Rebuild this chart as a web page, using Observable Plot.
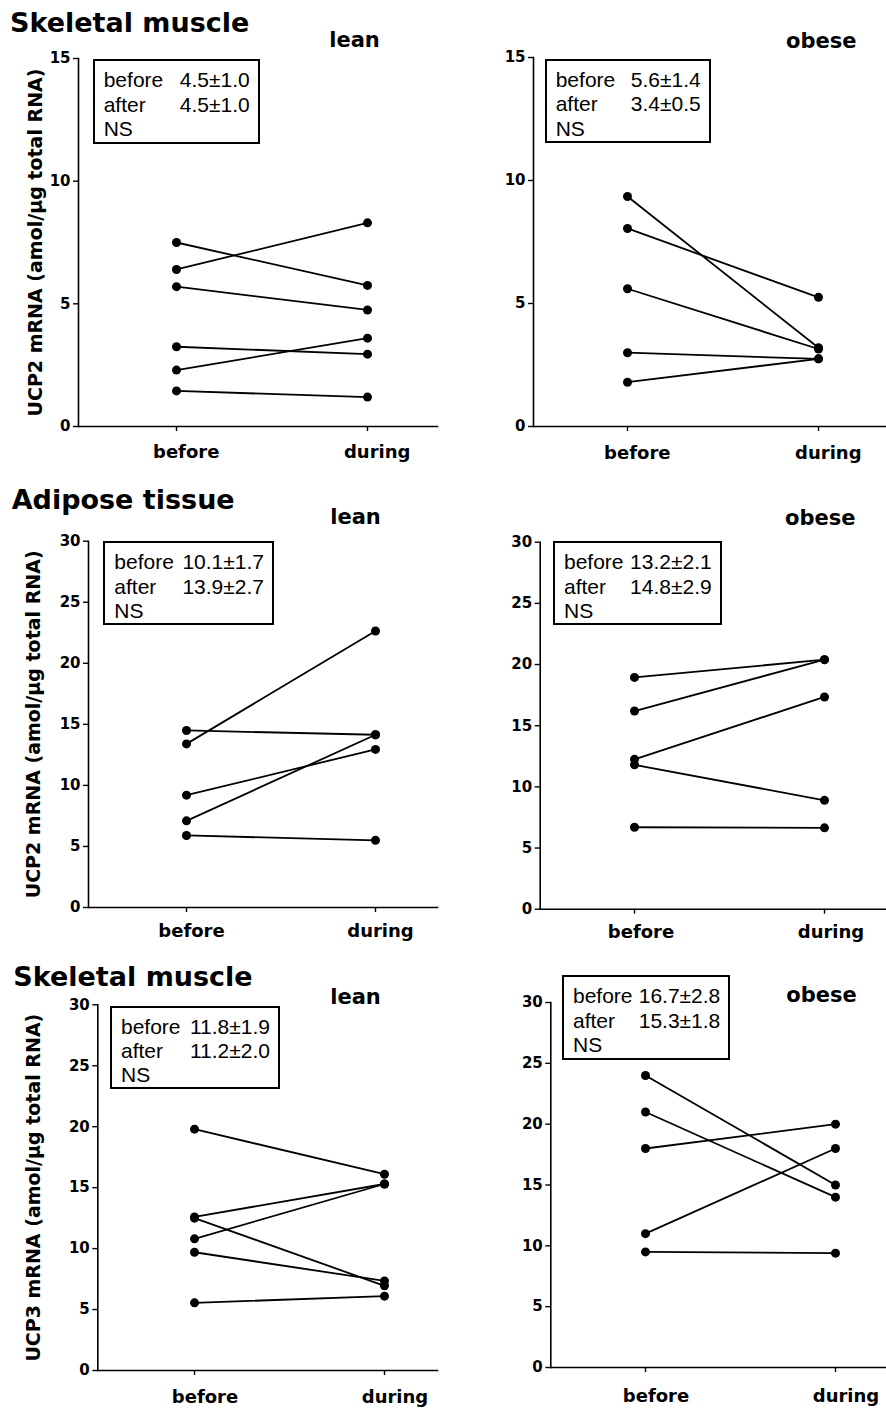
<!DOCTYPE html>
<html><head><meta charset="utf-8">
<script src="https://cdn.jsdelivr.net/npm/d3@7"></script>
<script src="https://cdn.jsdelivr.net/npm/@observablehq/plot@0.6"></script>
<style>
body{margin:0;background:#fff;}
#root{position:relative;width:886px;height:1408px;overflow:hidden;background:#fff;}
.panel{position:absolute;}
.title{position:absolute;font-family:"DejaVu Sans",sans-serif;font-weight:bold;font-size:27px;line-height:1;white-space:nowrap;color:#000;}
.box{position:absolute;box-sizing:border-box;border:2px solid #000;font-family:"Liberation Sans",Arial,sans-serif;font-size:21px;line-height:24px;padding:7px 8px 0 9px;display:grid;grid-template-columns:auto 1fr;column-gap:6px;color:#000;background:#fff;white-space:nowrap;}
.box .v{text-align:right;}
</style></head><body><div id="root"></div><script>
// ---- data ----
const conditions = ["before", "during"];
const statLabels = ["before", "after"];
const yTicks15 = [0, 5, 10, 15];
const yTicks30 = [0, 5, 10, 15, 20, 25, 30];
const ucp2Label = "UCP2 mRNA (amol/µg total RNA)";
const ucp3Label = "UCP3 mRNA (amol/µg total RNA)";
const sectionTitles = ["Skeletal muscle", "Adipose tissue", "Skeletal muscle"];
const groups = ["lean", "obese"];

const ucp2MuscleLeanBefore = [7.5, 6.4, 5.7, 3.25, 2.3, 1.45];
const ucp2MuscleLeanDuring = [5.75, 8.3, 4.75, 2.95, 3.6, 1.2];
const ucp2MuscleObeseBefore = [9.35, 8.05, 5.6, 3.0, 1.8];
const ucp2MuscleObeseDuring = [3.2, 5.25, 3.15, 2.75, 2.75];
const ucp2AdiposeLeanBefore = [14.5, 13.4, 9.2, 7.1, 5.9];
const ucp2AdiposeLeanDuring = [14.15, 22.65, 12.95, 14.15, 5.5];
const ucp2AdiposeObeseBefore = [18.95, 16.2, 12.25, 11.8, 6.7];
const ucp2AdiposeObeseDuring = [20.4, 20.4, 17.35, 8.9, 6.65];
const ucp3MuscleLeanBefore = [19.8, 12.6, 12.5, 10.8, 9.7, 5.55];
const ucp3MuscleLeanDuring = [16.1, 15.3, 6.95, 15.3, 7.35, 6.1];
const ucp3MuscleObeseBefore = [24, 21, 18, 11, 9.5];
const ucp3MuscleObeseDuring = [15, 14, 20, 18, 9.4];

const statsUcp2MuscleLean = ["4.5±1.0", "4.5±1.0", "NS"];
const statsUcp2MuscleObese = ["5.6±1.4", "3.4±0.5", "NS"];
const statsUcp2AdiposeLean = ["10.1±1.7", "13.9±2.7", "NS"];
const statsUcp2AdiposeObese = ["13.2±2.1", "14.8±2.9", "NS"];
const statsUcp3MuscleLean = ["11.8±1.9", "11.2±2.0", "NS"];
const statsUcp3MuscleObese = ["16.7±2.8", "15.3±1.8", "NS"];

// ---- layout ----
const panels = [
  {left:0, top:0, height:470, mL:78, mT:58, mB:44, mR:6, xr:[176,367], ticks:yTicks15, before:ucp2MuscleLeanBefore, during:ucp2MuscleLeanDuring, group:groups[0], gdx:276, gdy:-18.7, ylabel:ucp2Label, ylx:-43, xlDx:9.7, xlPad:19, box:[92.7,59.3,167,84.7], stats:statsUcp2MuscleLean},
  {left:443, top:0, height:470, mL:90, mT:57, mB:44, mR:0, xr:[183.7,375.3], ticks:yTicks15, before:ucp2MuscleObeseBefore, during:ucp2MuscleObeseDuring, group:groups[1], gdx:287.7, gdy:-16.3, ylabel:null, xlDx:9.8, xlPad:19.3, box:[544.7,58.7,166,84.6], stats:statsUcp2MuscleObese},
  {left:0, top:470, height:480, mL:88, mT:70.7, mB:43, mR:6, xr:[185.7,375.3], ticks:yTicks30, before:ucp2AdiposeLeanBefore, during:ucp2AdiposeLeanDuring, group:groups[0], gdx:267, gdy:-24, ylabel:ucp2Label, ylx:-55, xlDx:5, xlPad:16.3, box:[103.3,541.3,170.7,84], stats:statsUcp2AdiposeLean},
  {left:443, top:470, height:480, mL:96.7, mT:71.7, mB:41.3, mR:0, xr:[190.7,380.7], ticks:yTicks30, before:ucp2AdiposeObeseBefore, during:ucp2AdiposeObeseDuring, group:groups[1], gdx:280, gdy:-24, ylabel:null, xlDx:6.5, xlPad:16.3, box:[553,541.3,168.7,84], stats:statsUcp2AdiposeObese},
  {left:0, top:950, height:458, mL:97.3, mT:54.3, mB:38, mR:6, xr:[193.3,384], ticks:yTicks30, before:ucp3MuscleLeanBefore, during:ucp3MuscleLeanDuring, group:groups[0], gdx:257.7, gdy:-7.6, ylabel:ucp3Label, ylx:-64, xlDx:10.5, xlPad:20, box:[110,1006,170,83.3], stats:statsUcp3MuscleLean},
  {left:443, top:950, height:458, mL:107.3, mT:52, mB:41, mR:0, xr:[201.7,392.3], ticks:yTicks30, before:ucp3MuscleObeseBefore, during:ucp3MuscleObeseDuring, group:groups[1], gdx:270.7, gdy:-7, ylabel:null, xlDx:10.5, xlPad:21.3, box:[562,975,168.3,84.7], stats:statsUcp3MuscleObese}
];
const titlePos = [[10, 8.7], [11.7, 486], [13.3, 963]];

const root = document.getElementById("root");

panels.forEach(p => {
  const rows = [];
  p.before.forEach((v, i) => {
    rows.push({subject: i, condition: conditions[0], value: v});
    rows.push({subject: i, condition: conditions[1], value: p.during[i]});
  });
  const yMax = p.ticks[p.ticks.length - 1];
  const marks = [
    Plot.frame({anchor: "left", stroke: "black", strokeWidth: 1.6}),
    Plot.frame({anchor: "bottom", stroke: "black", strokeWidth: 1.6}),
    Plot.axisY({ticks: p.ticks, tickSize: 5, tickPadding: 3, fontSize: 15, fontWeight: "bold", label: null, strokeWidth: 1.4}),
    Plot.axisX({tickSize: 5, tickFormat: () => "", label: null, strokeWidth: 1.4}),
    Plot.axisX({tickSize: 0, tickPadding: p.xlPad, dx: p.xlDx, fontSize: 18, fontWeight: "bold", label: null}),
    Plot.line(rows, {x: "condition", y: "value", z: "subject", stroke: "black", strokeWidth: 1.8}),
    Plot.dot(rows, {x: "condition", y: "value", r: 4.5, fill: "black", stroke: "none"}),
    Plot.text([p.group], {frameAnchor: "top-left", dx: p.gdx, dy: p.gdy, textAnchor: "middle", lineAnchor: "middle", fontSize: 21, fontWeight: "bold"})
  ];
  if (p.ylabel) {
    marks.push(Plot.text([p.ylabel], {frameAnchor: "left", rotate: -90, dx: p.ylx, textAnchor: "middle", lineAnchor: "middle", fontSize: 19, fontWeight: "bold"}));
  }
  const chart = Plot.plot({
    width: 443,
    height: p.height,
    marginLeft: p.mL, marginTop: p.mT, marginBottom: p.mB, marginRight: p.mR,
    x: {type: "point", domain: conditions, range: p.xr, padding: 0, axis: null},
    y: {domain: [0, yMax], axis: null},
    style: {fontFamily: "'DejaVu Sans', sans-serif", color: "black", background: "transparent", overflow: "visible"},
    marks
  });
  const div = document.createElement("div");
  div.className = "panel";
  div.style.left = p.left + "px";
  div.style.top = p.top + "px";
  div.appendChild(chart);
  root.appendChild(div);

  const box = document.createElement("div");
  box.className = "box";
  box.style.left = p.box[0] + "px";
  box.style.top = p.box[1] + "px";
  box.style.width = p.box[2] + "px";
  box.style.height = p.box[3] + "px";
  box.innerHTML =
    `<span>${statLabels[0]}</span><span class="v">${p.stats[0]}</span>` +
    `<span>${statLabels[1]}</span><span class="v">${p.stats[1]}</span>` +
    `<span>${p.stats[2]}</span><span></span>`;
  root.appendChild(box);
});

sectionTitles.forEach((t, i) => {
  const d = document.createElement("div");
  d.className = "title";
  d.textContent = t;
  d.style.left = titlePos[i][0] + "px";
  d.style.top = titlePos[i][1] + "px";
  root.appendChild(d);
});
</script></body></html>
